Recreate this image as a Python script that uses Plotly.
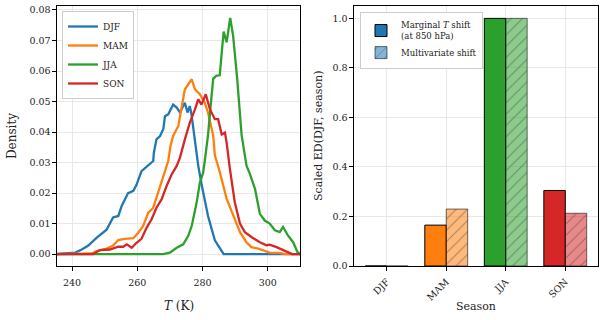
import plotly.graph_objects as go

# ---------------- data ----------------
seasons = ["DJF", "MAM", "JJA", "SON"]
colors = ["#1f77b4", "#ff7f0e", "#2ca02c", "#d62728"]
colors_light = ["rgba(31,119,180,0.55)", "rgba(255,127,14,0.55)",
                "rgba(44,160,44,0.55)", "rgba(214,39,40,0.55)"]

djf_T = [235, 241, 243, 245, 247.6, 250.6, 252.6, 254.2, 255.2, 257.2, 258.8, 259.8,
         261.3, 263.4, 264.9, 265.1, 265.9, 267, 268, 268.5, 269.5, 271, 272.1, 273.1,
         274.6, 275.4, 276.1, 276.6, 277.3, 278.7, 279.7, 281.7, 283.8, 285.9, 286.5, 310]
djf_d = [0, 0.0005, 0.0015, 0.0028, 0.0054, 0.008, 0.012, 0.0125, 0.0157, 0.020, 0.0207, 0.0228,
         0.0272, 0.029, 0.0305, 0.0332, 0.0376, 0.0387, 0.041, 0.0452, 0.0458, 0.049, 0.048, 0.0464,
         0.0496, 0.0464, 0.0485, 0.046, 0.040, 0.029, 0.023, 0.0125, 0.0045, 0.0007, 0, 0]

mam_T = [235, 246, 247.6, 250.6, 252.6, 254.2, 256.2, 258.8, 260.3, 261.8, 263.4, 264.9,
         265.9, 267, 268, 269.5, 270.2, 271, 272.6, 273.6, 274.6, 276.7, 277.7, 279.2,
         280.7, 281.7, 283.3, 283.8, 285.3, 287.4, 289.4, 291.5, 293.5, 295, 297.1, 299.1,
         300.6, 303.5, 305.5, 310]
mam_d = [0, 0.0002, 0.001, 0.0018, 0.0028, 0.0046, 0.005, 0.0052, 0.007, 0.0092, 0.0136, 0.0152,
         0.0185, 0.0223, 0.026, 0.0305, 0.0354, 0.0387, 0.042, 0.0485, 0.054, 0.0573, 0.054, 0.0524,
         0.0496, 0.0464, 0.0387, 0.0324, 0.0269, 0.0182, 0.0127, 0.0072, 0.0039, 0.0023, 0.0018, 0.0012,
         0.0005, 0.0004, 0, 0]

jja_T = [235, 268, 270, 272.1, 274.1, 275.6, 276.7, 278.2, 279.2, 280.2, 280.7, 281.7,
         282.8, 283.3, 284.3, 285.3, 285.9, 286.5, 287.4, 288.5, 289.4, 290.6, 292, 293.5,
         294.5, 296.1, 297.6, 299.1, 300.6, 302.2, 303.7, 304.7, 306.2, 307.8, 309.1, 310]
jja_d = [0, 0, 0.0005, 0.0021, 0.0032, 0.0059, 0.0092, 0.0168, 0.0234, 0.0267, 0.0305, 0.039,
         0.052, 0.0575, 0.0585, 0.0586, 0.066, 0.0729, 0.0694, 0.0774, 0.0715, 0.058, 0.039, 0.029,
         0.0264, 0.0214, 0.0132, 0.011, 0.010, 0.0078, 0.0072, 0.0089, 0.0061, 0.0039, 0.0007, 0]

son_T = [235, 246.5, 248.6, 251.6, 254.2, 255.7, 256.8, 258.3, 259.8, 261.3, 262.9, 264.4,
         265.9, 267.5, 269, 270.5, 272.1, 273.1, 274.6, 276.1, 277.7, 278.7, 279.7, 281,
         282.3, 283.8, 284.8, 285.9, 286.9, 287.4, 288.4, 289.9, 291.5, 293, 295, 297.6,
         299.6, 300.6, 302.7, 305.2, 306.8, 307.5, 310]
son_d = [0, 0, 0.0013, 0.0015, 0.0024, 0.0024, 0.0032, 0.0021, 0.0037, 0.005, 0.0087, 0.0114,
         0.0152, 0.018, 0.0223, 0.026, 0.0289, 0.0316, 0.0376, 0.043, 0.0474, 0.0507, 0.049, 0.0524,
         0.0474, 0.0442, 0.0442, 0.0392, 0.0398, 0.0365, 0.028, 0.017, 0.010, 0.0072, 0.0056, 0.0039,
         0.0029, 0.0031, 0.0023, 0.0012, 0.0003, 0, 0]

marginal_shift = [0.0, 0.165, 1.0, 0.305]
multivariate_shift = [0.0, 0.23, 1.0, 0.213]

x_ticks_left = [240, 260, 280, 300]
y_ticks_left = [0.00, 0.01, 0.02, 0.03, 0.04, 0.05, 0.06, 0.07, 0.08]
y_ticks_right = [0.0, 0.2, 0.4, 0.6, 0.8, 1.0]

# ---------------- figure ----------------
FONT = "DejaVu Serif"
fig = go.Figure()

for name, T, d, c in zip(seasons, [djf_T, mam_T, jja_T, son_T],
                         [djf_d, mam_d, jja_d, son_d], colors):
    fig.add_trace(go.Scatter(x=T, y=d, mode="lines", name=name,
                             line=dict(color=c, width=2.3), xaxis="x", yaxis="y",
                             legend="legend"))

fig.add_trace(go.Bar(x=seasons, y=marginal_shift, name="Marginal <i>T</i> shift<br>(at 850 hPa)",
                     marker=dict(color=colors, line=dict(color="black", width=1)),
                     xaxis="x2", yaxis="y2", legend="legend2", offsetgroup="a"))
fig.add_trace(go.Bar(x=seasons, y=multivariate_shift, name="Multivariate shift",
                     marker=dict(color=colors_light,
                                 line=dict(color="rgba(0,0,0,0.55)", width=1),
                                 pattern=dict(shape="/", fgcolor="rgba(30,30,30,0.75)",
                                              size=8, solidity=0.12, fillmode="overlay")),
                     xaxis="x2", yaxis="y2", legend="legend2", offsetgroup="b"))

axis_common = dict(showline=True, linecolor="black", linewidth=1.1, mirror=True,
                   ticks="outside", ticklen=3.5, tickwidth=1, tickcolor="black",
                   showgrid=True, gridcolor="#e8e8e8", gridwidth=0.8, zeroline=False,
                   automargin=False,
                   tickfont=dict(family=FONT, size=9.5, color="#222"))

H = 320.0
W = 604.0
ydom = [1 - 266 / H, 1 - 6 / H]

fig.update_layout(
    width=604, height=320,
    margin=dict(l=0, r=0, t=0, b=0),
    paper_bgcolor="white", plot_bgcolor="white",
    font=dict(family=FONT, size=10, color="#222"),
    barmode="group", bargap=0.28, bargroupgap=0.0,
    xaxis=dict(domain=[57 / W, 300 / W], range=[235.4, 309.9], tickvals=x_ticks_left,
               anchor="y", ticklabelstandoff=4, **axis_common),
    yaxis=dict(domain=ydom, range=[-0.0039, 0.0813], tickvals=y_ticks_left,
               tickformat=".2f", anchor="x", **axis_common),
    xaxis2=dict(domain=[354 / W, 598 / W], range=[-0.55, 3.55], anchor="y2",
                tickangle=-45, ticklabelstandoff=2, **axis_common),
    yaxis2=dict(domain=ydom, range=[0, 1.05], tickvals=y_ticks_right, tickformat=".1f",
                anchor="x2", **axis_common),
    legend=dict(x=62 / W, y=1 - 11 / H, xanchor="left", yanchor="top",
                bgcolor="white", bordercolor="#cccccc", borderwidth=1, itemwidth=30,
                font=dict(family=FONT, size=9, color="#222"), tracegroupgap=0),
    legend2=dict(x=360 / W, y=1 - 12 / H, xanchor="left", yanchor="top",
                 bgcolor="white", bordercolor="#cccccc", borderwidth=1, itemwidth=30,
                 font=dict(family=FONT, size=8.5, color="#222"), tracegroupgap=0),
    annotations=[
        dict(text="Density", x=12 / W, y=1 - 136 / H, xref="paper", yref="paper",
             xanchor="center", yanchor="middle",
             textangle=-90, showarrow=False, font=dict(family=FONT, size=12, color="#222")),
        dict(text="<i>T</i> (K)", x=178.5 / W, y=1 - 306 / H, xref="paper", yref="paper",
             xanchor="center", yanchor="middle",
             showarrow=False, font=dict(family=FONT, size=12, color="#222")),
        dict(text="Scaled ED(DJF, season)", x=318 / W, y=1 - 136 / H, xref="paper",
             yref="paper", textangle=-90, showarrow=False, xanchor="center", yanchor="middle",
             font=dict(family=FONT, size=11, color="#222")),
        dict(text="Season", x=476 / W, y=1 - 306 / H, xref="paper", yref="paper",
             xanchor="center", yanchor="middle",
             showarrow=False, font=dict(family=FONT, size=11, color="#222")),
    ],
)

fig.write_html("out.html")
